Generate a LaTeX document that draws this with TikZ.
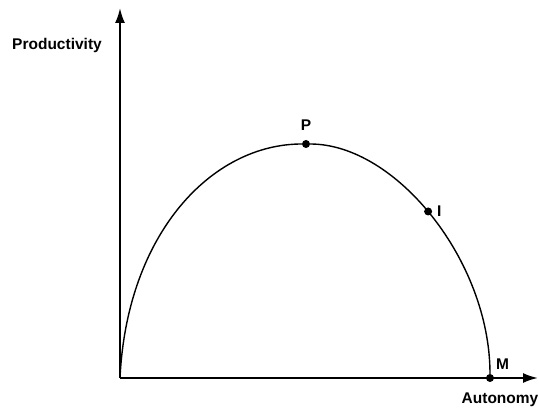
\documentclass[tikz,border=0pt]{standalone}
\usepackage{fontspec}
\setmainfont{Liberation Sans}
\usetikzlibrary{arrows.meta, positioning}

\tikzset{
  dot/.style={circle, fill=black, inner sep=0pt, minimum size=8pt},
  lbl/.style={font=\bfseries\fontsize{15.5}{18}\selectfont, inner sep=1pt},
  axis/.style={line width=2pt, -{Latex[length=15pt, width=10pt]}}
}

\begin{document}
\begin{tikzpicture}[x=1pt, y=1pt]
    \useasboundingbox (0,0) rectangle (539,411);

    \coordinate (origin) at (120,33);
    \coordinate (ytop) at (120,403);
    \coordinate (xend) at (538,33);

    \draw[axis] (origin) -- (ytop);
    \draw[axis] (origin) -- (xend);

    \node[dot] (P) at (306,267) {};
    \node[dot] (M) at (490,33) {};

    % curve: rise to P, fall through I to M
    \draw[line width=1.4pt] (origin) .. controls (127,178) and (212,267) .. (P)
      .. controls (396,267) and (490,150) .. (M) node[dot, pos=0.48] (I) {};

    \node[lbl, above=8pt of P] (lblP) {P};
    \node[lbl, right=3pt of I] (lblI) {I};
    \node[lbl, above right=4pt and 2pt of M] (lblM) {M};
    \node[lbl] (lblx) at (500,11) {Autonomy};
    \node[lbl] (lbly) at (57,365) {Productivity};
  \end{tikzpicture}
\end{document}
